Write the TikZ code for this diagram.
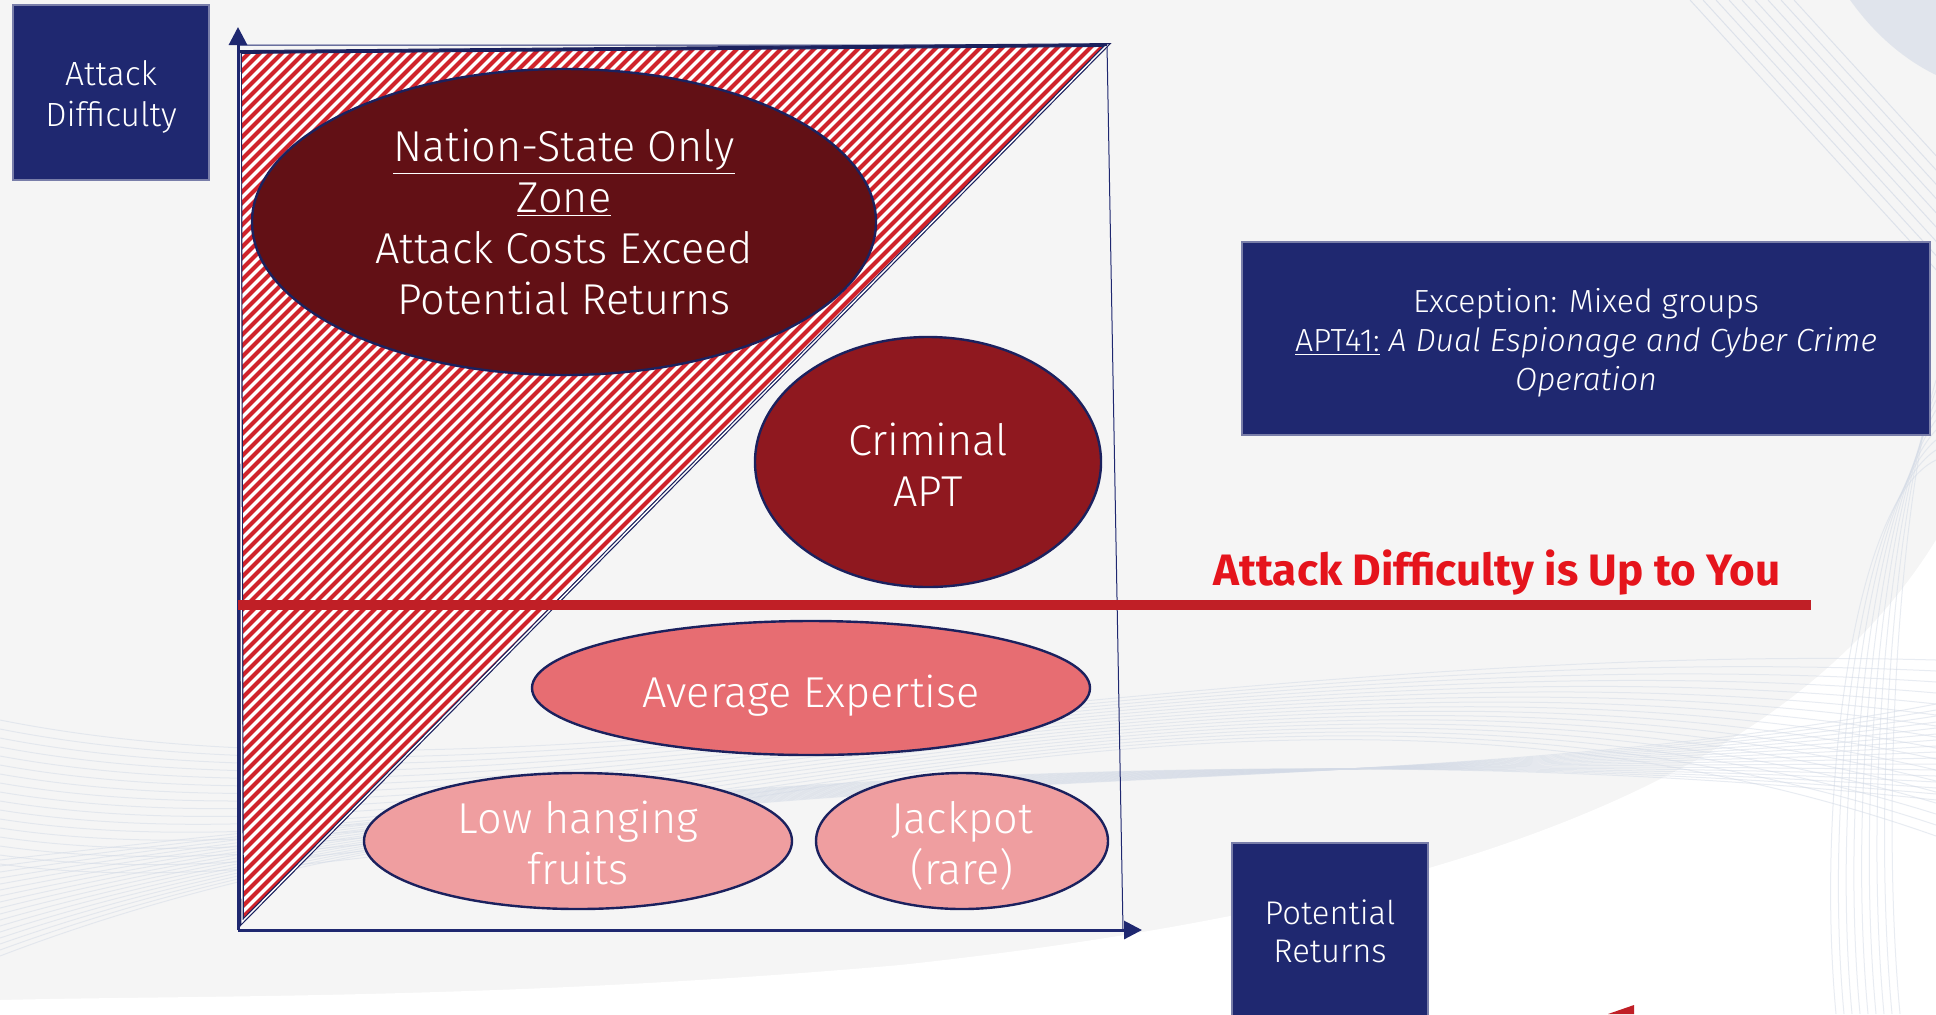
\documentclass[tikz,border=0pt]{standalone}
\usepackage{fontspec}
\setmainfont{Fira Sans Light}[ItalicFont={Fira Sans Light Italic}]
\newfontfamily\boldsans{Fira Sans}
\usetikzlibrary{shapes.geometric,arrows.meta}
\definecolor{bg}{HTML}{F5F5F5}
\definecolor{navy}{HTML}{1F2870}
\definecolor{navyline}{HTML}{1B215E}
\definecolor{nation}{HTML}{621015}
\definecolor{criminal}{HTML}{8F181F}
\definecolor{average}{HTML}{E76D72}
\definecolor{lowfruit}{HTML}{EF9EA0}
\definecolor{hatchred}{HTML}{D0232B}
\definecolor{redline}{HTML}{C01F26}
\definecolor{redtext}{HTML}{E5141C}
\definecolor{swoosh}{HTML}{D3DAE6}
\tikzset{
  bluebox/.style={draw=navy!60!white, line width=0.8pt, fill=navy, inner sep=0pt},
  boxtext/.style={text=white, align=center, inner sep=0pt},
  ell/.style={ellipse, draw=navyline, line width=1.2pt, inner sep=0pt},
  elltext/.style={text=white, align=center, inner sep=0pt, font=\fontsize{21.6}{25.5}\selectfont},
  axis/.style={draw=navy, line width=1.5pt},
  frame/.style={draw=navy, line width=0.5pt},
}
\begin{document}
\begin{tikzpicture}[x=0.5pt,y=-0.5pt]
\useasboundingbox (0,0) rectangle (1936,1014);
\fill[bg] (0,0) rectangle (1936,1014);
% background decoration
\begin{scope}
\clip (0,0) rectangle (1936,1014);
\fill[white] (1936,540) .. controls (1800,760) and (1500,900) .. (900,965) .. controls (500,1000) and (200,995) .. (0,1000) -- (0,1014) -- (1936,1014) -- cycle;
\foreach \i in {0,...,16}{
  \draw[swoosh, line width=0.5pt, opacity=0.5] (0,{720+\i*9}) .. controls (500,{820+\i*7}) and (1200,{640-\i*4}) .. (1936,{660+\i*11});
  \draw[swoosh, line width=0.5pt, opacity=0.5] (0,{860+\i*6}) .. controls (600,{790-\i*4}) and (1300,{730+\i*6}) .. (1936,{800-\i*6});
}
\foreach \i in {0,...,8}{
  \draw[swoosh, line width=0.5pt, opacity=0.7] ({1690+\i*13},0) -- ++(260,285);
  \draw[swoosh, line width=0.5pt, opacity=0.5] ({1900-\i*8},1014) .. controls ({1880-\i*8},800) and ({1900-\i*6},500) .. ({1936},{380+\i*10});
}
\fill[swoosh, opacity=0.6] (1850,0) .. controls (1875,35) and (1905,60) .. (1936,75) -- (1936,0) -- cycle;
\end{scope}

% axes frame
\coordinate (O) at (238,930);
\coordinate (Ytop) at (238,27);
\coordinate (Xend) at (1142,930);
\coordinate (FTL) at (238,45);
\coordinate (FTR) at (1107,45);
\coordinate (FBR) at (1123,930);
\draw[frame] (FTL) -- (FTR) -- (FBR);

% hatched triangle
\coordinate (T1) at (240,52);
\coordinate (T2) at (1107,45);
\coordinate (T3) at (242,922);
\begin{scope}
\clip (T1) -- (T2) -- (T3) -- cycle;
\fill[white] (230,40) rectangle (1120,930);
\foreach \c in {280,291,...,1190}{
  \draw[hatchred, line width=2pt] ({\c-950},950) -- (\c,0);
}
\end{scope}
\draw[navyline, line width=0.6pt, double=white, double distance=0.7pt] (T1) -- (T2) -- (T3) -- cycle;
\draw[navyline, line width=1.2pt] (T1) -- (T2);

% axes
\draw[axis, -{Triangle[length=9pt,width=9pt]}] (O) -- (Ytop);
\draw[axis, -{Triangle[length=9pt,width=9pt]}] (O) -- (Xend);

% red line
\coordinate (RL1) at (238,605);
\coordinate (RL2) at (1811,605);
\draw[redline, line width=5pt] (RL1) -- (RL2);
\node[text=redtext, font={\boldsans\bfseries\fontsize{22}{26}\selectfont}] (redlabel) at (1497,573) {Attack Difficulty is Up to You};

% ellipses
\node[ell, fill=nation, minimum width=312pt, minimum height=153pt] (nation) at (564,222) {};
\node[elltext] (nationtext) at (nation.center)
  {\underline{Nation-State Only}\\ \underline{Zone}\\ Attack Costs Exceed\\ Potential Returns};
\node[ell, fill=criminal, minimum width=173pt, minimum height=125pt] (criminal) at (928,462) {};
\node[elltext] (criminaltext) at ([yshift=-1.2pt]criminal.center) {Criminal\\ APT};
\node[ell, fill=average, minimum width=279pt, minimum height=67pt] (average) at (811,688) {};
\node[elltext] (averagetext) at ([yshift=-3.7pt]average.center) {Average Expertise};
\node[ell, fill=lowfruit, minimum width=214pt, minimum height=68pt] (low) at (578,841) {};
\node[elltext] (lowtext) at ([yshift=-1pt]low.center) {Low hanging\\ fruits};
\node[ell, fill=lowfruit, minimum width=146pt, minimum height=68pt] (jackpot) at (962,841) {};
\node[elltext] (jackpottext) at ([yshift=-2.5pt]jackpot.center) {Jackpot\\ (rare)};

% boxes
\node[bluebox, minimum width=98pt, minimum height=87.5pt] (ylabel) at (111,92.5) {};
\node[boxtext, font=\fontsize{16.8}{20.5}\selectfont] (ylabeltext) at (111,97) {Attack\\ Difficulty};
\node[bluebox, minimum width=98pt, minimum height=88.5pt] (xlabel) at (1330,931.5) {};
\node[boxtext, font=\fontsize{16.4}{19.2}\selectfont] (xlabeltext) at (1330,931.5) {Potential\\ Returns};
\node[bluebox, minimum width=344pt, minimum height=96.5pt] (exception) at (1586,338.5) {};
\node[boxtext, font=\fontsize{16}{19.6}\selectfont] (exceptiontext) at (1586,342.5)
  {Exception: Mixed groups\\ \underline{APT41:} \textit{A Dual Espionage and Cyber Crime}\\ \textit{Operation}};

% red mark at bottom
\fill[redline] (1608,1014) -- (1634,1005) -- (1634,1014) -- cycle;
\end{tikzpicture}
\end{document}
